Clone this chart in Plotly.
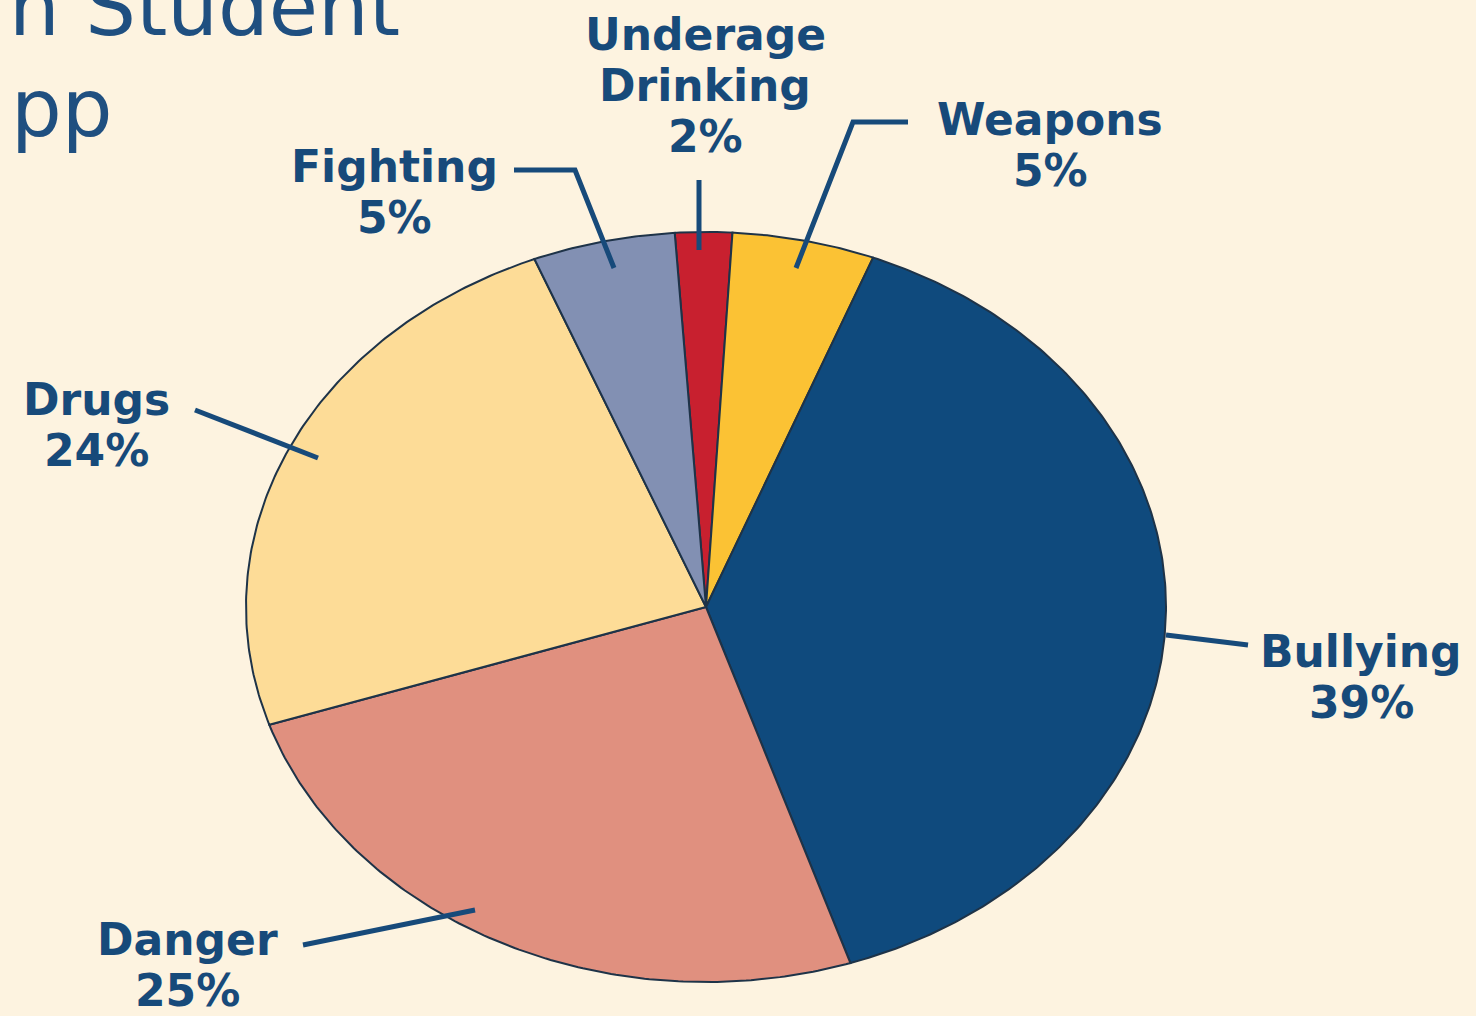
import numpy as np
import plotly.graph_objects as go

# ---- data ----
categories = ["Underage Drinking", "Weapons", "Bullying", "Danger", "Drugs", "Fighting"]
display_lines = [["Underage", "Drinking"], ["Weapons"], ["Bullying"], ["Danger"], ["Drugs"], ["Fighting"]]
percent = [2, 5, 39, 25, 24, 5]
title_fragments = ["n Student", "pp"]

# ---- styles / layout ----
colors = ["#c8202f", "#fbc234", "#0f4a7d", "#e0907f", "#fddc97", "#8290b3"]
label_x = [705, 1050, 1361, 187, 96, 394]
label_first_baseline = [50, 135, 667, 955, 415, 182]
LINE_GAP = 51
leaders = [
    "M 699 180 L 699 250",
    "M 908 122 L 853 122 L 796 268",
    "M 1166 635 L 1248 645",
    "M 303 945 L 475 910",
    "M 195 410 L 318 458",
    "M 514 170 L 575 170 L 614 268",
]
BG = "#fdf3e0"
TEXT = "#174a7a"
EDGE = "#1e3348"
LABEL_FONT = dict(family="DejaVu Sans", size=44, color=TEXT, weight="bold")
TITLE_FONT = dict(family="DejaVu Sans", size=80, color="#1f4f80", weight=400)
title_pos = [(204, 7), (62, 108)]
CX, CY, RX, RY = 706, 607, 460, 375
START_DEG = -3.9

fig = go.Figure()

total = float(sum(percent))
cum = np.concatenate([[0.0], np.cumsum(percent)]) / total
for i, name in enumerate(categories):
    t0 = np.radians(START_DEG + 360 * cum[i])
    t1 = np.radians(START_DEG + 360 * cum[i + 1])
    n = max(8, int(percent[i] * 6))
    t = np.linspace(t0, t1, n)
    xs = np.concatenate([[CX], CX + RX * np.sin(t), [CX]])
    ys = np.concatenate([[CY], CY - RY * np.cos(t), [CY]])
    fig.add_trace(go.Scatter(
        x=xs, y=ys, mode="lines", fill="toself",
        fillcolor=colors[i], line=dict(color=EDGE, width=2),
        name=name, hoveron="fills",
        text=f"{name}: {percent[i]}%", hoverinfo="text",
        showlegend=False,
    ))

for i, lines in enumerate(display_lines):
    all_lines = lines + [f"{percent[i]}%"]
    for k, line in enumerate(all_lines):
        baseline = label_first_baseline[i] + k * LINE_GAP
        fig.add_annotation(
            x=label_x[i], y=baseline - 16, xref="x", yref="y", showarrow=False,
            text=line, xanchor="center", yanchor="middle", font=LABEL_FONT,
        )
    fig.add_shape(type="path", path=leaders[i], xref="x", yref="y",
                  line=dict(color=TEXT, width=5))

# partial title (cut off at the left/top edges as in the reference)
for frag, (tx, ty) in zip(title_fragments, title_pos):
    fig.add_annotation(x=tx, y=ty, xref="x", yref="y", showarrow=False,
                       text=frag, xanchor="center", yanchor="middle", font=TITLE_FONT)

fig.update_layout(
    width=1476, height=1016,
    margin=dict(l=0, r=0, t=0, b=0),
    paper_bgcolor=BG, plot_bgcolor=BG,
    xaxis=dict(range=[0, 1476], visible=False, fixedrange=True),
    yaxis=dict(range=[1016, 0], visible=False, fixedrange=True),
    showlegend=False,
)

fig.write_html(
    "out.html",
    config={"displayModeBar": False},
    post_script="document.body.style.margin='0';document.body.style.background='#fdf3e0';",
)
